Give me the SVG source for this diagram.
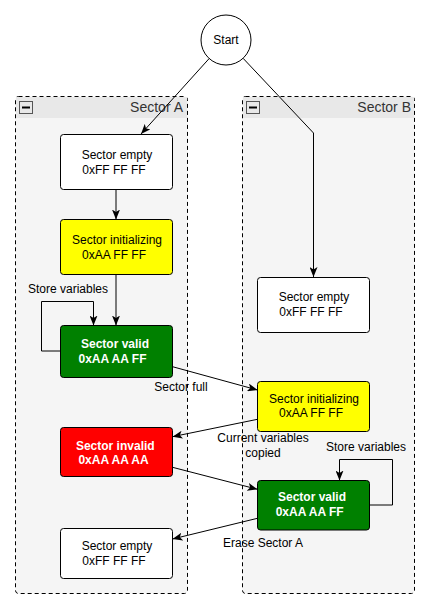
<svg xmlns="http://www.w3.org/2000/svg" width="430" height="608" viewBox="0 0 430 608">
<style>
.lane{fill:#f5f5f5;stroke:#000;stroke-width:1;stroke-dasharray:4,3}
.hdr{fill:#e8e8e8;stroke:none}
.btn{fill:none;stroke:#555;stroke-width:1}
.node{stroke:#000;stroke-width:1}
.t{font-family:"Liberation Sans",Arial,sans-serif;font-size:12px;fill:#000;text-anchor:middle}
.tb{font-family:"Liberation Sans",Arial,sans-serif;font-size:12px;font-weight:bold;fill:#fff;text-anchor:middle}
.lt{font-family:"Liberation Sans",Arial,sans-serif;font-size:14px;fill:#333;text-anchor:end}
.e{fill:none;stroke:#000;stroke-width:1}
</style>
<defs>
<marker id="arr" markerUnits="userSpaceOnUse" viewBox="0 0 10 8" refX="10" refY="4" markerWidth="10" markerHeight="8" orient="auto">
<path d="M0,0 L10,4 L0,8 L2.5,4 z" fill="#000"/>
</marker>
</defs>
<rect width="430" height="608" fill="#fff"/>
<g id="sectorA">
<rect class="lane" x="15.5" y="96.5" width="172" height="497" rx="3"/>
<rect class="hdr" x="16" y="97" width="171" height="21"/>
<rect class="btn" x="19.5" y="101.5" width="13" height="12" fill="#e8e8e8"/>
<line x1="22" y1="107.5" x2="30" y2="107.5" stroke="#000" stroke-width="2"/>
<text class="lt" x="183" y="112">Sector A</text>
</g>
<g id="sectorB">
<rect class="lane" x="242.5" y="96.5" width="172" height="497" rx="3"/>
<rect class="hdr" x="243" y="97" width="171" height="21"/>
<rect class="btn" x="246.5" y="101.5" width="13" height="12" fill="#e8e8e8"/>
<line x1="249" y1="107.5" x2="257" y2="107.5" stroke="#000" stroke-width="2"/>
<text class="lt" x="411" y="112">Sector B</text>
</g>
<g id="start">
<circle cx="226" cy="40" r="25" fill="#fff" stroke="#000"/>
<text class="t" x="226" y="44">Start</text>
</g>
<g id="a_empty">
<rect class="node" x="60.5" y="134.5" width="112" height="55" rx="3" fill="#fff"/>
<text class="t" x="117" y="159">Sector empty</text>
<text class="t" x="114" y="174">0xFF FF FF</text>
</g>
<g id="a_init">
<rect class="node" x="60.5" y="219.5" width="112" height="55" rx="3" fill="#ffff00"/>
<text class="t" x="117" y="244">Sector initializing</text>
<text class="t" x="114" y="258.5">0xAA FF FF</text>
</g>
<g id="a_valid">
<rect class="node" x="60.5" y="325.5" width="112" height="52" rx="3" fill="#008000"/>
<text class="tb" x="115" y="347.5">Sector valid</text>
<text class="tb" x="112.5" y="362.5">0xAA AA FF</text>
</g>
<g id="a_invalid">
<rect class="node" x="60.5" y="427.5" width="112" height="49" rx="3" fill="#ff0000"/>
<text class="tb" x="115.3" y="449.5">Sector invalid</text>
<text class="tb" x="113.5" y="464">0xAA AA AA</text>
</g>
<g id="a_empty2">
<rect class="node" x="60.5" y="528.5" width="112" height="50" rx="3" fill="#fff"/>
<text class="t" x="117" y="550">Sector empty</text>
<text class="t" x="114" y="564.5">0xFF FF FF</text>
</g>
<g id="b_empty">
<rect class="node" x="257.5" y="277.5" width="112" height="55" rx="3" fill="#fff"/>
<text class="t" x="314" y="301">Sector empty</text>
<text class="t" x="311" y="316">0xFF FF FF</text>
</g>
<g id="b_init">
<rect class="node" x="257.5" y="381.5" width="112" height="50" rx="3" fill="#ffff00"/>
<text class="t" x="314" y="402.7">Sector initializing</text>
<text class="t" x="311" y="417.3">0xAA FF FF</text>
</g>
<g id="b_valid">
<rect class="node" x="257.5" y="480.5" width="112" height="49.5" rx="3" fill="#008000"/>
<text class="tb" x="312" y="501">Sector valid</text>
<text class="tb" x="309.7" y="516">0xAA AA FF</text>
</g>
<g id="connectors">
<line class="e" x1="209.2" y1="58.5" x2="141" y2="134" marker-end="url(#arr)"/>
<polyline class="e" points="243.1,58.3 313.5,133 313.5,277" marker-end="url(#arr)"/>
<line class="e" x1="116" y1="189.5" x2="116" y2="219.5" marker-end="url(#arr)"/>
<line class="e" x1="116" y1="274.5" x2="116" y2="325.5" marker-end="url(#arr)"/>
<polyline class="e" points="60.5,351 41.5,351 41.5,301.5 93.5,301.5 93.5,325.5" marker-end="url(#arr)"/>
<text class="t" x="68" y="293">Store variables</text>
<line class="e" x1="172.5" y1="366.7" x2="257.5" y2="390" marker-end="url(#arr)"/>
<text class="t" x="181" y="391">Sector full</text>
<line class="e" x1="257.5" y1="419.3" x2="172.5" y2="436.7" marker-end="url(#arr)"/>
<text class="t" x="263" y="442.3">Current variables</text>
<text class="t" x="263" y="456.7">copied</text>
<line class="e" x1="172.5" y1="467.3" x2="257.5" y2="489.3" marker-end="url(#arr)"/>
<polyline class="e" points="369.5,505 392.5,505 392.5,459.5 339.5,459.5 339.5,480.5" marker-end="url(#arr)"/>
<text class="t" x="366" y="451">Store variables</text>
<line class="e" x1="257.5" y1="518.3" x2="172.5" y2="539" marker-end="url(#arr)"/>
<text class="t" x="263" y="546.7">Erase Sector A</text>
</g>
</svg>
